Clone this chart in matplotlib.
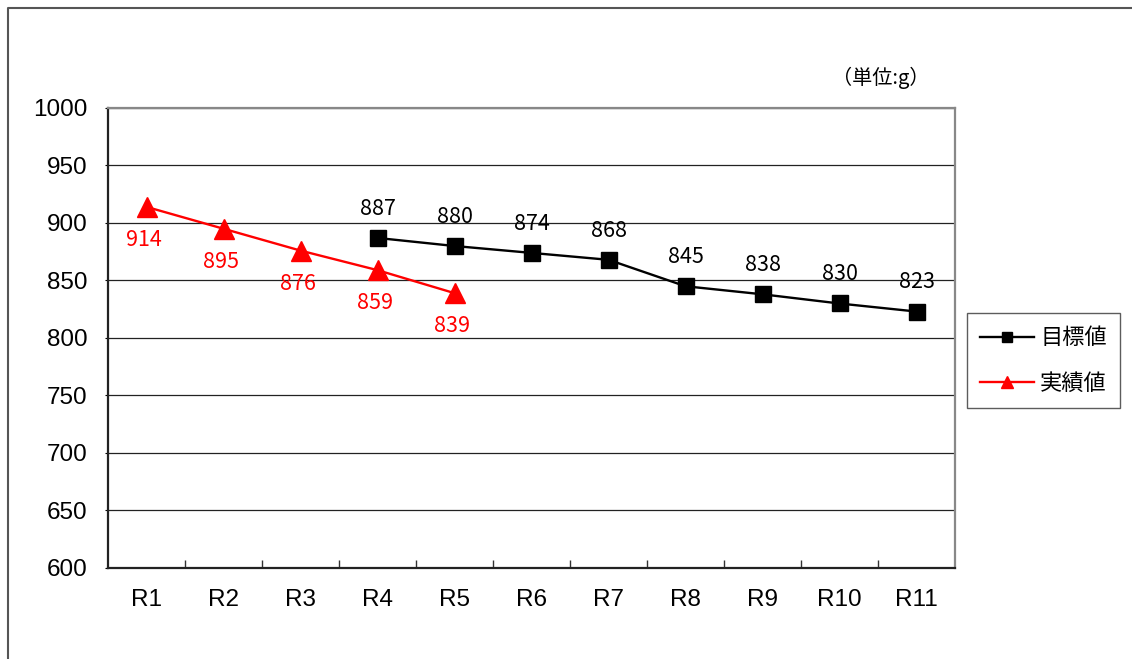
import numpy as np
import matplotlib.pyplot as plt
from matplotlib.lines import Line2D

plt.rcParams['font.family'] = ['Liberation Sans', 'Noto Sans CJK JP', 'DejaVu Sans']

categories = ['R1', 'R2', 'R3', 'R4', 'R5', 'R6', 'R7', 'R8', 'R9', 'R10', 'R11']
target_idx = [3, 4, 5, 6, 7, 8, 9, 10]
target_vals = [887, 880, 874, 868, 845, 838, 830, 823]
actual_idx = [0, 1, 2, 3, 4]
actual_vals = [914, 895, 876, 859, 839]
yticks = [600, 650, 700, 750, 800, 850, 900, 950, 1000]

W, H = 1132, 659
fig = plt.figure(figsize=(W / 100, H / 100), dpi=100)
ax = fig.add_axes([108 / W, 1 - 568 / H, (955 - 108) / W, (568 - 108) / H])

# outer chart frame (only left and top edges are visible)
fig.add_artist(Line2D([7.5 / W, 7.5 / W, 1.0], [0.0, 1 - 7.5 / H, 1 - 7.5 / H],
                      transform=fig.transFigure, color='#555555', lw=1.5))

x = np.arange(len(categories))
ax.plot(target_idx, target_vals, color='black', lw=1.7, marker='s', markersize=11.5,
        label='目標値', zorder=3)
ax.plot(actual_idx, actual_vals, color='#ff0000', lw=1.7, marker='^', markersize=14,
        label='実績値', zorder=3)

label_font = ['Noto Sans CJK JP', 'DejaVu Sans']
for i, v in zip(target_idx, target_vals):
    ax.annotate(str(v), (i, v), xytext=(0, 21), textcoords='offset points',
                ha='center', va='center', fontsize=15.5, color='black', family=label_font)
for i, v in zip(actual_idx, actual_vals):
    ax.annotate(str(v), (i, v), xytext=(-2, -24), textcoords='offset points',
                ha='center', va='center', fontsize=15.5, color='#ff0000', family=label_font)

ax.set_xlim(-0.5, len(categories) - 0.5)
ax.set_ylim(600, 1000)
ax.set_yticks(yticks)
ax.set_xticks(x)
ax.set_xticklabels(categories)
ax.set_xticks(np.arange(0.5, len(categories) - 1), minor=True)
ax.tick_params(axis='x', which='major', length=0, pad=15, labelsize=17.5)
ax.tick_params(axis='x', which='minor', direction='in', length=6, width=1, color='#333333')
ax.tick_params(axis='y', direction='out', length=2, pad=13, labelsize=17.5)

ax.grid(axis='y', color='#222222', lw=0.9)
ax.set_axisbelow(True)
for side in ['left', 'bottom']:
    ax.spines[side].set_color('#222222')
    ax.spines[side].set_linewidth(1.6)
for side in ['top', 'right']:
    ax.spines[side].set_color('#888888')
    ax.spines[side].set_linewidth(1.6)

fig.text(930 / W, 1 - 78 / H, '（単位:g）', ha='right', va='center', fontsize=14.5,
         family=label_font)

leg = fig.legend(loc='upper left', bbox_to_anchor=(967 / W, 1 - 313 / H),
                 borderaxespad=0, fancybox=False, edgecolor='#333333',
                 prop={'family': label_font, 'size': 16}, markerscale=0.65,
                 handlelength=2.4, labelspacing=1.0, borderpad=0.6, handletextpad=0.3)
leg.get_frame().set_linewidth(1.0)

fig.savefig('out.png', dpi=100)
